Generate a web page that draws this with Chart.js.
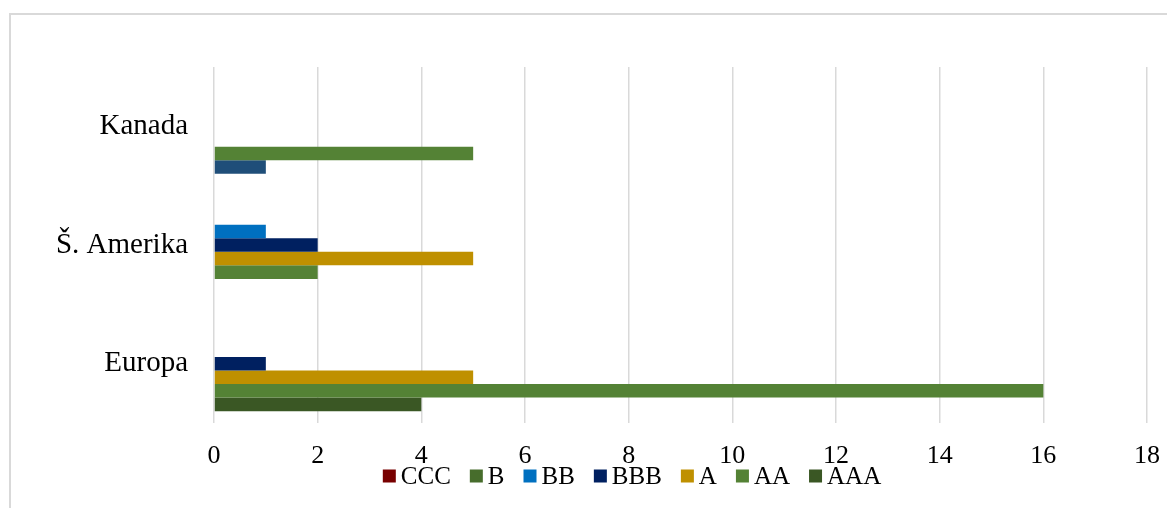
<!DOCTYPE html>
<html>
<head>
<meta charset="utf-8">
<script src="https://cdn.jsdelivr.net/npm/chart.js@4/dist/chart.umd.min.js"></script>
<style>
  html, body { margin: 0; padding: 0; background: #fff; }
  #c { display: block; }
</style>
</head>
<body>
<canvas id="c" width="1167" height="508"></canvas>
<script>
// ---- data ----
const categories = ['Kanada', 'Š. Amerika', 'Europa'];
const seriesNames = ['CCC', 'B', 'BB', 'BBB', 'A', 'AA', 'AAA'];
const valuesCCC = [0, 0, 0];
const valuesB   = [0, 0, 0];
const valuesBB  = [0, 1, 0];
const valuesBBB = [0, 2, 1];
const valuesA   = [0, 5, 5];
const valuesAA  = [5, 2, 16];
const valuesAAA = [1, 0, 4];
const xTicks = [0, 2, 4, 6, 8, 10, 12, 14, 16, 18];

// ---- styles ----
const seriesColors = {
  CCC: '#780000',
  B: '#476D2C',
  BB: '#0070C0',
  BBB: '#002060',
  A: '#BF9000',
  AA: '#548235',
  AAA: '#3A5724'
};
const kanadaAAAColor = '#1F4E79';
const FONT = '"Liberation Serif", "Times New Roman", serif';

const seriesValues = [valuesCCC, valuesB, valuesBB, valuesBBB, valuesA, valuesAA, valuesAAA];

const datasets = seriesNames.map((name, i) => {
  let color = seriesColors[name];
  if (name === 'AAA') {
    color = categories.map(c => c === 'Kanada' ? kanadaAAAColor : seriesColors.AAA);
  }
  return {
    label: name,
    data: seriesValues[i],
    backgroundColor: color,
    borderWidth: 0,
    categoryPercentage: 0.80,
    barPercentage: 1.0
  };
});

const borderPlugin = {
  id: 'outerBorder',
  beforeDraw(chart) {
    const ctx = chart.ctx;
    ctx.save();
    ctx.fillStyle = '#ffffff';
    ctx.fillRect(0, 0, chart.width, chart.height);
    ctx.strokeStyle = '#d9d9d9';
    ctx.lineWidth = 2;
    ctx.strokeRect(10, 14, chart.width + 50, chart.height + 50);
    ctx.restore();
  }
};

const legendPlugin = {
  id: 'customLegend',
  afterDraw(chart) {
    const ctx = chart.ctx;
    ctx.save();
    ctx.font = '25px ' + FONT;
    ctx.textBaseline = 'middle';
    ctx.textAlign = 'left';
    const box = 13, gapBoxText = 5, gapItems = 19;
    const items = chart.data.datasets.map(ds => ({
      text: ds.label,
      color: seriesColors[ds.label],
      w: box + gapBoxText + ctx.measureText(ds.label).width
    }));
    const total = items.reduce((s, it) => s + it.w, 0) + gapItems * (items.length - 1);
    const centerX = 632;
    const y = 476;
    let x = centerX - total / 2;
    items.forEach(it => {
      ctx.fillStyle = it.color;
      ctx.fillRect(x, y - box / 2, box, box);
      ctx.fillStyle = '#000';
      ctx.fillText(it.text, x + box + gapBoxText, y + 1);
      x += it.w + gapItems;
    });
    ctx.restore();
  }
};

new Chart(document.getElementById('c'), {
  type: 'bar',
  data: { labels: categories, datasets },
  options: {
    indexAxis: 'y',
    responsive: false,
    devicePixelRatio: 1,
    animation: false,
    layout: { padding: { top: 67, right: 20, bottom: 0, left: 0 } },
    plugins: {
      legend: { display: false },
      tooltip: { enabled: false }
    },
    scales: {
      x: {
        min: 0,
        max: 18,
        afterBuildTicks(scale) { scale.ticks = xTicks.map(v => ({ value: v })); },
        afterFit(scale) {
          scale.height = 85;
          scale.paddingLeft = 0;
          scale.paddingRight = 0;
        },
        grid: { color: '#d9d9d9', lineWidth: 1.5, drawTicks: false },
        border: { display: false },
        ticks: {
          font: { family: FONT, size: 26 },
          color: '#000',
          padding: 18,
          maxRotation: 0
        }
      },
      y: {
        afterFit(scale) { scale.width = 214; },
        grid: { display: false, drawTicks: false },
        border: { display: false },
        ticks: {
          font: { family: FONT, size: 29 },
          color: '#000',
          padding: 26
        }
      }
    }
  },
  plugins: [borderPlugin, legendPlugin]
});
</script>
</body>
</html>
